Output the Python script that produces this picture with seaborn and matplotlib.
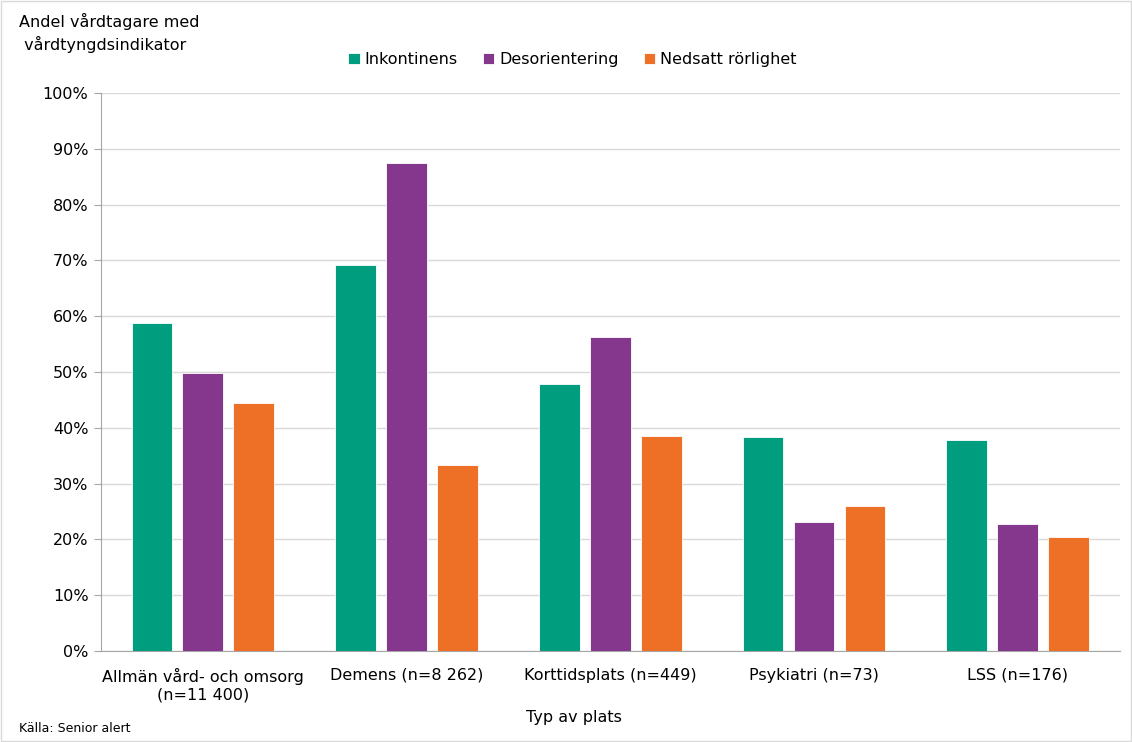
import seaborn as sns
import matplotlib.pyplot as plt
import pandas as pd
from matplotlib.patches import Rectangle
from matplotlib.ticker import PercentFormatter

# Data
platser = ['Allmän vård- och omsorg\n(n=11 400)', 'Demens (n=8 262)',
           'Korttidsplats (n=449)', 'Psykiatri (n=73)', 'LSS (n=176)']
serier = ['Inkontinens', 'Desorientering', 'Nedsatt rörlighet']
inkontinens = [58.7, 69.1, 47.9, 38.3, 37.9]
desorientering = [49.9, 87.4, 56.2, 23.2, 22.7]
nedsatt = [44.5, 33.4, 38.5, 25.9, 20.4]
farger = ['#009E7E', '#84378C', '#EE7026']

df = pd.DataFrame({
    'plats': platser * 3,
    'serie': [s for s in serier for _ in platser],
    'andel': inkontinens + desorientering + nedsatt,
})

sns.set_style("white")
plt.rcParams['font.family'] = ['DejaVu Sans']
plt.rcParams['text.color'] = 'black'
plt.rcParams['xtick.color'] = 'black'
plt.rcParams['ytick.color'] = 'black'

fig = plt.figure(figsize=(11.32, 7.42), dpi=100)
ax = fig.add_axes([0.0892, 0.1226, 0.8998, 0.7521])

sns.barplot(data=df, x='plats', y='andel', hue='serie', hue_order=serier,
            palette=farger, saturation=1, width=0.75, gap=0.2, errorbar=None, ax=ax,
            edgecolor='white', linewidth=0.6, zorder=3)

ax.set_ylim(0, 100)
ax.set_yticks(range(0, 101, 10))
ax.yaxis.set_major_formatter(PercentFormatter(decimals=0))
ax.set_xlim(-0.5, 4.5)
ax.grid(axis='y', color='#D9D9D9', linewidth=1, zorder=0)
ax.set_axisbelow(True)
for side in ['top', 'right']:
    ax.spines[side].set_visible(False)
for side in ['left', 'bottom']:
    ax.spines[side].set_color('#A6A6A6')
ax.tick_params(axis='y', which='major', length=5, color='#A6A6A6',
               labelcolor='black', labelsize=11.5, pad=4, left=True)
ax.tick_params(axis='x', length=0, labelcolor='black', labelsize=11.5, pad=12)
ax.set_xlabel('Typ av plats', fontsize=11.5, color='black')
ax.xaxis.set_label_coords(0.464, -0.105)
ax.set_ylabel('')

ax.legend(loc='lower center', bbox_to_anchor=(0.463, 1.02), ncol=3, frameon=False,
          fontsize=11.5, handlelength=0.7, handleheight=0.7, handletextpad=0.3,
          columnspacing=1.6)

fig.text(0.017, 0.983, 'Andel vårdtagare med\n vårdtyngdsindikator', ha='left', va='top',
         fontsize=11.5, linespacing=1.45)
fig.text(0.017, 0.010, 'Källa: Senior alert', ha='left', va='bottom', fontsize=9)

fig.patches.append(Rectangle((0.001, 0.001), 0.998, 0.998, transform=fig.transFigure,
                             fill=False, edgecolor='#D9D9D9', linewidth=1))

fig.savefig('out.png', dpi=100)
